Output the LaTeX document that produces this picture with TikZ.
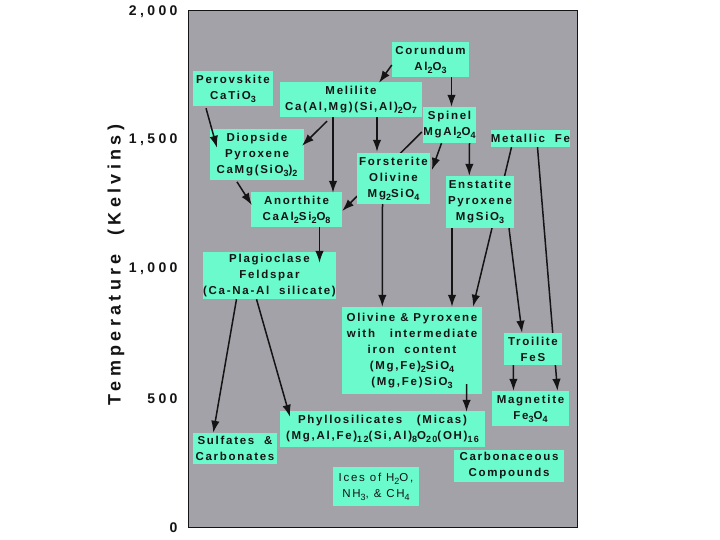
\documentclass[tikz,border=0pt]{standalone}
\usepackage{fontspec}
\setmainfont{Liberation Sans}[LetterSpace=15]
\newfontfamily\axf{Liberation Sans}[LetterSpace=24]
\usetikzlibrary{arrows.meta,calc}
\pgfdeclarelayer{back}\pgfdeclarelayer{behind}
\pgfsetlayers{back,behind,main}
\definecolor{panelgray}{RGB}{163,162,168}
\definecolor{mint}{RGB}{106,250,204}
\definecolor{ink}{RGB}{20,20,20}
\newcommand{\sbs}[1]{\raisebox{-3pt}{\fontsize{9}{9}\selectfont#1}}
\begin{document}
\begin{tikzpicture}[x=1pt,y=-1pt,
  box/.style={fill=mint, inner sep=0pt, align=center, text=ink,
    font=\fontsize{11.5}{16}\selectfont\bfseries},
  arr/.style={-{Latex[length=12pt,width=8.5pt]}, line width=1.5pt, draw=ink, fill=ink},
  axlab/.style={anchor=east, text=ink, font=\axf\fontsize{14}{14}\selectfont\bfseries},
]
\useasboundingbox (0,0) rectangle (720,540);
\begin{pgfonlayer}{back}
\fill[white] (0,0) rectangle (720,540);
\draw[fill=panelgray, line width=1pt, draw=ink] (188,11) rectangle (577,527);
\end{pgfonlayer}

% axis
\node[axlab] (t2000) at (181,12) {2,000};
\node[axlab] (t1500) at (181,140) {1,500};
\node[axlab] (t1000) at (181,269) {1,000};
\node[axlab] (t500) at (181,399) {500};
\node[axlab] (t0) at (181,528) {0};
\node[rotate=90, text=ink, font=\axf\fontsize{18}{18}\selectfont\bfseries] (ylab) at (116,265) {Temperature\ \ (Kelvins)};

% boxes
\node[box, minimum width=77, minimum height=35] (cor) at (430.5,59.5) {Corundum\\Al\sbs{2}O\sbs{3}};
\node[box, minimum width=80, minimum height=35] (per) at (233,88.5) {Perovskite\\CaTiO\sbs{3}};
\node[box, minimum width=142, minimum height=35] (mel) at (351,99.5) {Melilite\\Ca(Al,Mg)(Si,Al)\sbs{2}O\sbs{7}};
\node[box, minimum width=53, minimum height=36] (spi) at (449.5,125) {Spinel\\MgAl\sbs{2}O\sbs{4}};
\node[box, minimum width=77, minimum height=17] (met) at (530.5,138.5) {Metallic\ \ Fe};
\node[box, minimum width=94, minimum height=51] (dio) at (257,154.5) {Diopside\\Pyroxene\\CaMg(SiO\sbs{3})\sbs{2}};
\node[box, minimum width=73, minimum height=51] (for) at (393.5,178.5) {Forsterite\\Olivine\\Mg\sbs{2}SiO\sbs{4}};
\node[box, minimum width=68, minimum height=52] (ens) at (480,202) {Enstatite\\Pyroxene\\MgSiO\sbs{3}};
\node[box, minimum width=91, minimum height=35] (ano) at (296.5,209.5) {Anorthite\\CaAl\sbs{2}Si\sbs{2}O\sbs{8}};
\node[box, minimum width=133, minimum height=47] (pla) at (269.5,275.5) {Plagioclase\\Feldspar\\(Ca-Na-Al\ \ silicate)};
\node[box, minimum width=140, minimum height=87] (oli) at (412,350.5) {Olivine\ \&\ Pyroxene\\with\ \ \ intermediate\\iron\ \ content\\(Mg,Fe)\sbs{2}SiO\sbs{4}\\(Mg,Fe)SiO\sbs{3}};
\node[box, minimum width=58, minimum height=32] (tro) at (533,349) {Troilite\\FeS};
\node[box, minimum width=77, minimum height=35] (mag) at (530.5,408.5) {Magnetite\\Fe\sbs{3}O\sbs{4}};
\node[box, minimum width=205, minimum height=36] (phy) at (382.5,429) {Phyllosilicates\ \ \ (Micas)\\(Mg,Al,Fe)\sbs{12}(Si,Al)\sbs{8}O\sbs{20}(OH)\sbs{16}};
\node[box, minimum width=84, minimum height=31] (sul) at (235,448.5) {Sulfates\ \ \&\\Carbonates};
\node[box, minimum width=110, minimum height=32] (car) at (509,466) {Carbonaceous\\Compounds};
\node[box, minimum width=86, minimum height=39, font=\fontsize{11.5}{16}\selectfont] (ice) at (376,486.5) {Ices of H\sbs{2}O,\\NH\sbs{3}, \& CH\sbs{4}};

% arrows passing behind boxes
\begin{pgfonlayer}{behind}
\draw[arr] ($(spi.west)+(-1,7)$) -- ($(ano.east)+(0,1.5)$);
\draw[arr] ($(met.south)+(-19,0)$) -- ($(oli.north)+(61,0)$);
\draw[arr] ($(met.south)+(7,0)$) -- ($(mag.north)+(27,0)$);
\end{pgfonlayer}

% other arrows
\draw[arr] ($(cor.west)+(0,5.5)$) -- ($(mel.north)+(28,1)$);
\draw[arr] ($(cor.south)+(21,0)$) -- ($(spi.north)+(2,0)$);
\draw[arr] ($(per.south)+(-27,2)$) -- ($(dio.north)+(-40,19)$);
\draw[arr] ($(mel.south)+(-24,4)$) -- ($(dio.north)+(45,17)$);
\draw[arr] ($(mel.south)+(-18,0)$) -- ($(ano.north)+(36.5,1)$);
\draw[arr] ($(mel.south)+(26,0)$) -- ($(for.north)+(-16.5,-1)$);
\draw[arr] ($(spi.south)+(-8,0)$) -- ($(for.east)+(1.7,-8.5)$);
\draw[arr] ($(spi.south)+(20,0)$) -- ($(ens.north)+(-10.7,0)$);
\draw[arr] ($(dio.south)+(-20,1.7)$) -- ($(ano.west)+(1,-4.5)$);
\draw[arr] ($(ens.south)+(29,0)$) -- ($(tro.north)+(-11,0)$);
\draw[arr] ($(ens.south)+(-28,0)$) -- ($(oli.north)+(40,0)$);
\draw[arr] ($(for.south)+(-11,0)$) -- ($(oli.north)+(-29.7,0)$);
\draw[arr] ($(ano.south)+(23,0)$) -- ($(pla.north)+(50,11)$);
\draw[arr] ($(pla.south)+(-33,0)$) -- ($(sul.north)+(-21.7,0)$);
\draw[arr] ($(pla.south)+(-13,0)$) -- ($(phy.north)+(-92.5,6)$);
\draw[arr] ($(oli.south)+(54.7,-10)$) -- ($(phy.north)+(84,1)$);
\draw[arr] ($(tro.south)+(-19.7,0)$) -- ($(mag.north)+(-17,0)$);
\end{tikzpicture}
\end{document}
